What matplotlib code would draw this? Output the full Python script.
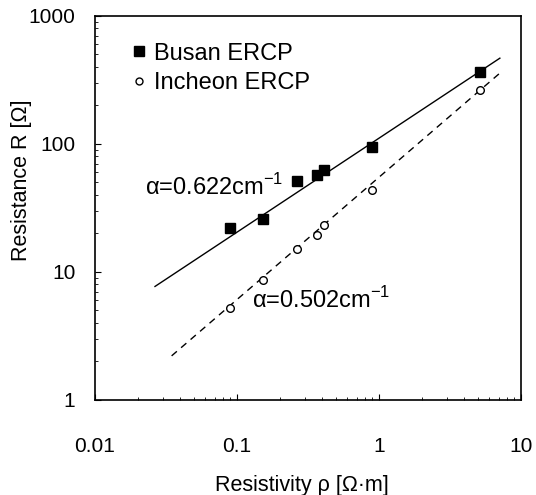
import matplotlib
matplotlib.use("Agg")
import matplotlib.pyplot as plt

plt.rcParams['font.family'] = ['Liberation Sans', 'DejaVu Sans']
plt.rcParams['mathtext.fontset'] = 'custom'
plt.rcParams['mathtext.rm'] = 'Liberation Sans'

# data
rho = [0.089, 0.152, 0.266, 0.364, 0.412, 0.888, 5.14]
busan_R = [22, 26, 51, 57, 63, 94, 367]
incheon_R = [5.2, 8.7, 15.0, 19.5, 23.3, 43.7, 265]

# fitted lines (end points)
busan_fit_x = [0.0265, 7.1]
busan_fit_y = [7.7, 467]
incheon_fit_x = [0.0347, 7.1]
incheon_fit_y = [2.21, 357]

fig = plt.figure(figsize=(5.36, 4.95), dpi=100)
ax = fig.add_axes([0.177, 0.192, 0.795, 0.776])

ax.plot(busan_fit_x, busan_fit_y, color='black', lw=1.0)
ax.plot(incheon_fit_x, incheon_fit_y, color='black', lw=1.0, ls=(0, (5, 4)))

ax.plot(rho, busan_R, ls='none', marker='s', ms=7, color='black', label='Busan ERCP')
ax.plot(rho, incheon_R, ls='none', marker='o', ms=5.5, mfc='white', mec='black',
        mew=1.0, label='Incheon ERCP')

ax.set_xscale('log')
ax.set_yscale('log')
ax.set_xlim(0.01, 10)
ax.set_ylim(1, 1000)
ax.set_xticks([0.01, 0.1, 1, 10])
ax.set_xticklabels(['0.01', '0.1', '1', '10'])
ax.set_yticks([1, 10, 100, 1000])
ax.set_yticklabels(['1', '10', '100', '1000'])

ax.tick_params(which='both', direction='in', top=False, right=False)
ax.tick_params(which='major', length=4, labelsize=15)
ax.tick_params(axis='x', which='major', pad=27)
ax.tick_params(axis='y', which='major', pad=14)
ax.tick_params(which='minor', length=2.5)
for s in ax.spines.values():
    s.set_linewidth(1.2)

ax.set_xlabel('Resistivity ρ [Ω·m]', fontsize=15.5)
ax.set_ylabel('Resistance R [Ω]', fontsize=15.5)
ax.xaxis.set_label_coords(0.485, -0.195)
ax.yaxis.set_label_coords(-0.148, 0.573)

ax.text(0.0225, 46, r'α=0.622cm$^{\mathregular{-1}}$', fontsize=17, va='center')
ax.text(0.127, 6.0, r'α=0.502cm$^{\mathregular{-1}}$', fontsize=17, va='center')

leg = ax.legend(loc='upper left', frameon=False, fontsize=17, handlelength=0.5,
                handletextpad=0.4, borderaxespad=0.0, labelspacing=0.3,
                borderpad=0.0, bbox_to_anchor=(0.09, 0.93))
leg.legend_handles[0].set_markersize(6.5)
leg.legend_handles[1].set_markersize(5)

fig.savefig('out.png', dpi=100)
